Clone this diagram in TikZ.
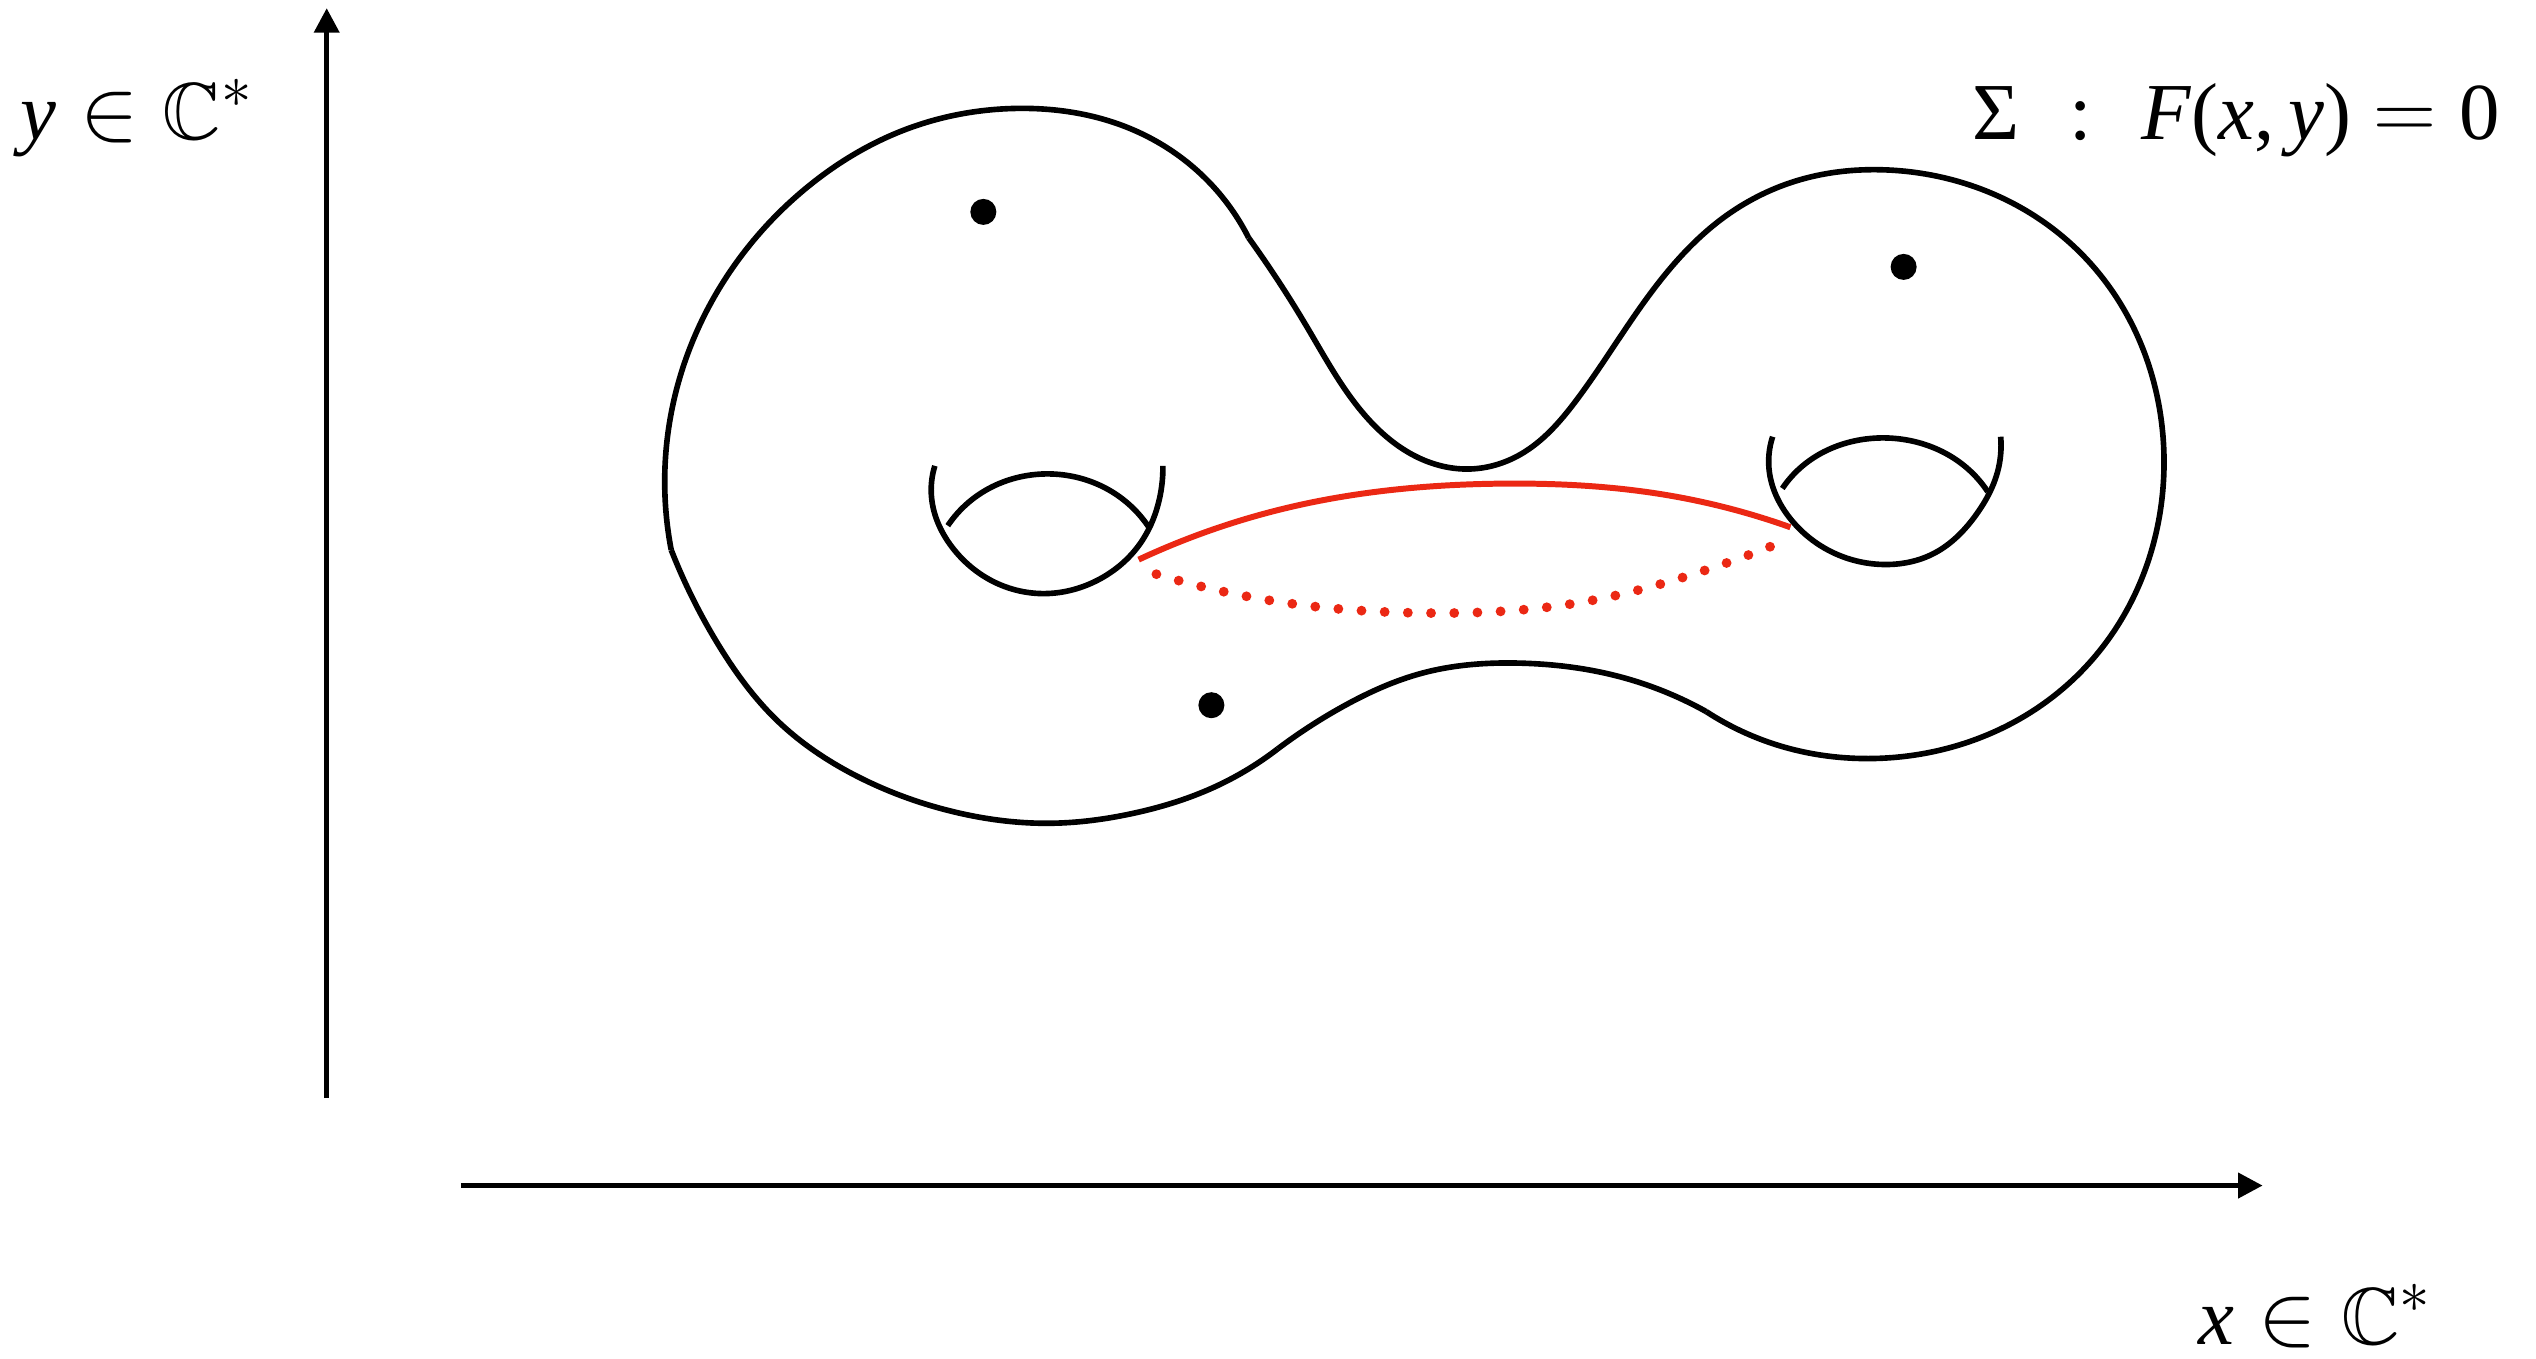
\documentclass[tikz,border=0pt]{standalone}
\usepackage{amssymb}
\usepackage{fontspec}
\setmainfont{Liberation Serif}
\usetikzlibrary{arrows.meta,hobby}
\definecolor{cutred}{RGB}{235,40,20}
\begin{document}
\begin{tikzpicture}[x=0.016173cm,y=-0.016173cm,
  line/.style={line width=1.6pt,line join=round,use Hobby shortcut},
  axis/.style={line width=1.5pt,-{Triangle[length=7pt,width=7pt]}},
  redsolid/.style={cutred,line width=1.7pt,use Hobby shortcut},
  reddots/.style={cutred,line width=2.8pt,line cap=round,dash pattern=on 0pt off 6.6pt,use Hobby shortcut},
  puncture/.style={circle,fill=black,inner sep=0pt,minimum size=7.4pt},
  lab/.style={inner sep=0pt,font=\fontsize{23}{28}\selectfont}]
\useasboundingbox (0,0) rectangle (1568,840);
% axes
\coordinate (yb) at (202,679);
\coordinate (yt) at (202,5);
\coordinate (xl) at (285,733);
\coordinate (xr) at (1399,733);
\draw[axis] (yb) -- (yt);
\draw[axis] (xl) -- (xr);
% labels
\node[lab,anchor=base west] (ylab) at (12,86) {$\textit{y}\in\mathbb{C}^*$};
\node[lab,anchor=base east] (slab) at (1546,86) {Σ\hspace{0.62em}:\hspace{0.62em}\textit{F}(\textit{x},\,\textit{y})\hspace{0.28em}$=$\hspace{0.28em}0};
\node[lab,anchor=base west] (xlab) at (1359,831) {$\textit{x}\in\mathbb{C}^*$};
% surface outline
\draw[line] (415,340) .. (411,295) .. (422,228) .. (452,167) .. (500,115) .. (560,80) .. (630,67) .. (700,80) .. (745,110) .. (772,147);
\draw[line] (772,147) .. (808,202) .. (845,258) .. (875,282) .. (907,290) .. (940,281) .. (975,247) .. (1020,182) .. (1065,135) .. (1110,112) .. (1165,105) .. (1287,157) .. (1338,285) .. (1287,415) .. (1155,469) .. (1100,461) .. (1055,440);
\draw[line] (1055,440) .. (1000,418) .. (940,410) .. (880,416) .. (830,437) .. (790,463);
\draw[line] (790,463) .. (750,487) .. (700,503) .. (650,509) .. (590,502) .. (530,480) .. (480,445) .. (445,400) .. (415,340);
% punctures
\node[puncture] (p1) at (608,131) {};
\node[puncture] (p2) at (1177,165) {};
\node[puncture] (p3) at (749,436) {};
% left handle
\draw[line] (578,288) .. (576,308) .. (590,340) .. (615,360) .. (646,367) .. (680,358) .. (705,336) .. (716,312) .. (719,288);
\draw[line] (586,325) .. controls (615,282) and (682,282) .. (711,327);
% right handle
\draw[line] (1096,270) .. (1094,292) .. (1108,322) .. (1132,341) .. (1164,349) .. (1196,342) .. (1222,318) .. (1235,292) .. (1237,270);
\draw[line] (1102,302) .. controls (1130,260) and (1200,260) .. (1229,304);
% red cycle
\draw[redsolid] (704,346) .. (800,313) .. (930,299) .. (1030,306) .. (1107,326);
\draw[reddots] (715,355) .. (790,372) .. (880,379) .. (980,372) .. (1050,354) .. (1097,337);
\end{tikzpicture}
\end{document}
